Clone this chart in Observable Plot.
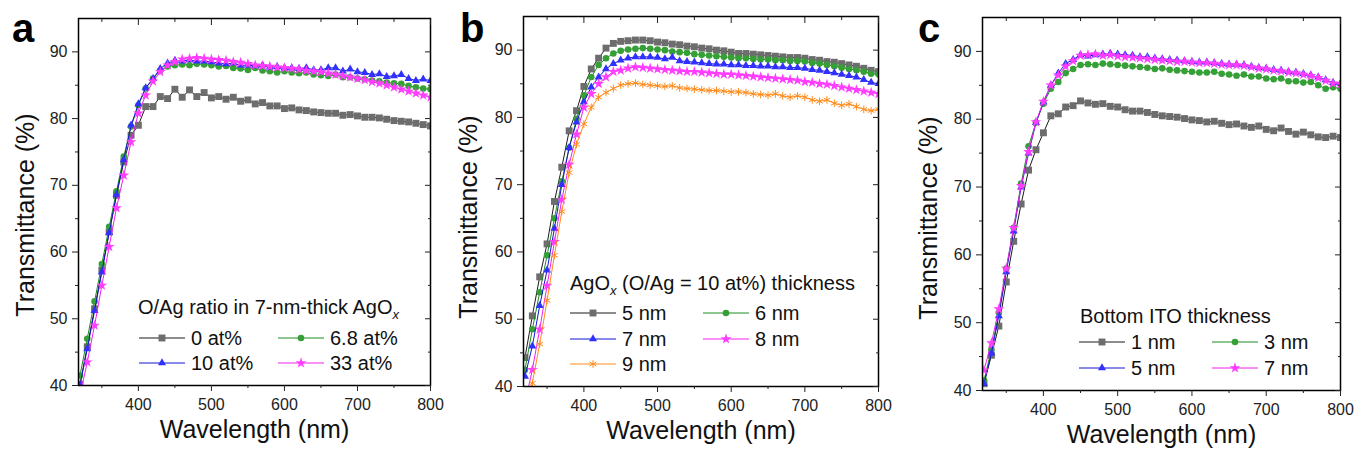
<!DOCTYPE html>
<html><head><meta charset="utf-8">
<script src="https://cdn.jsdelivr.net/npm/d3@7"></script>
<script src="https://cdn.jsdelivr.net/npm/@observablehq/plot@0.6"></script>
<style>
body{margin:0;background:#fff;font-family:"Liberation Sans",Arial,sans-serif;}
#root{position:relative;width:1354px;height:454px;overflow:hidden;background:#fff;}
.panel{position:absolute;top:0;}
.letter{position:absolute;font-weight:bold;font-size:40px;line-height:40px;color:#000;}
.ytitle{position:absolute;font-size:25px;line-height:25px;white-space:nowrap;color:#111;transform:translate(-50%,-50%) rotate(-90deg);}
.ltitle{position:absolute;font-size:20px;line-height:20px;white-space:nowrap;color:#111;}
.ltitle sub{font-style:italic;font-size:13px;vertical-align:-5px;line-height:0;}
.item{position:absolute;display:flex;align-items:center;height:20px;font-size:20px;line-height:20px;white-space:nowrap;color:#111;}
.item svg{display:block;margin-right:6px;}
</style></head><body><div id="root"></div>
<script>
// ---------- data ----------
const wavelength = [320,330,340,350,360,370,380,390,400,410,420,430,440,450,460,470,480,490,500,510,520,530,540,550,560,570,580,590,600,610,620,630,640,650,660,670,680,690,700,710,720,730,740,750,760,770,780,790,800];

// panel a : O/Ag ratio in 7-nm-thick AgOx
const aLabels = ["0 at%", "6.8 at%", "10 at%", "33 at%"];
const a_0at = [40.2,45.8,51.5,57.3,63.0,68.5,73.5,77.5,79.0, 81.8,81.8,83.3,83.0,84.4,83.2,84.3,83.3,83.9,83.1, 83.3,82.9,83.2,82.6,82.8,82.2,82.4,81.9,81.9,81.5, 81.6,81.3,81.2,81.0,80.9,80.8,80.8,80.5,80.6,80.4, 80.2,80.2,80.1,79.9,79.7,79.6,79.5,79.3,79.1,78.9];
const a_6p8at = [41.5,47.0,52.6,58.2,63.8,69.1,74.3,78.8,82.0, 84.5,86.0,87.2,87.8,88.0,88.1,88.0,88.2,88.1,88.0, 87.8,87.9,87.6,87.5,87.3,87.6,87.2,87.1,86.9,87.1, 86.9,86.8,86.9,86.6,86.5,86.4,86.6,86.2,86.2,86.0, 85.9,85.7,85.6,85.4,85.3,85.2,84.9,84.7,84.5,84.4];
const a_10at = [40.0,45.5,51.2,57.0,62.9,68.6,73.8,79.0,82.2, 84.6,86.0,87.5,88.3,88.7,88.6,88.8,88.6,88.6,88.5, 88.3,88.2,88.3,88.0,88.0,87.9,88.0,87.7,87.8,87.6, 87.6,87.5,87.6,87.3,87.3,87.6,87.6,87.1,87.4,87.0, 86.9,86.6,86.7,86.3,86.4,86.6,86.0,85.7,85.9,85.7];
const a_33at = [38.5,43.5,49.0,55.0,60.8,66.6,71.5,76.5,80.8, 83.5,85.6,87.0,88.0,88.5,88.9,89.0,89.1,89.0,88.9, 88.8,88.7,88.5,88.4,88.2,88.0,87.9,87.8,87.7,87.6, 87.5,87.4,87.2,87.1,87.0,86.8,86.6,86.4,86.2,86.0, 85.8,85.5,85.3,85.0,84.7,84.4,84.1,83.8,83.5,83.2];

// panel b : AgOx (O/Ag = 10 at%) thickness
const bLabels = ["5 nm", "6 nm", "7 nm", "8 nm", "9 nm"];
const b_5nm = [44.3,50.5,56.3,61.2,67.5,72.6,78.0,81.0,84.6, 87.2,88.8,90.3,91.0,91.3,91.4,91.5,91.5,91.4,91.2, 91.1,90.9,90.8,90.6,90.5,90.3,90.2,90.0,89.9,89.7, 89.5,89.5,89.4,89.3,89.2,89.1,89.0,88.9,88.9,88.8, 88.6,88.5,88.3,88.2,88.0,87.8,87.6,87.3,87.0,86.8];
const b_6nm = [42.5,48.5,54.0,59.5,65.0,70.5,75.5,79.8,83.3, 86.0,87.8,88.8,89.5,89.9,90.1,90.2,90.3,90.2,90.1, 90.0,89.8,89.7,89.6,89.4,89.3,89.2,89.1,89.0,88.9, 88.8,88.8,88.7,88.6,88.6,88.5,88.5,88.4,88.4,88.3, 88.1,88.0,87.8,87.6,87.4,87.2,87.0,86.8,86.5,86.4];
const b_7nm = [41.5,46.0,52.0,57.3,63.5,70.0,75.5,79.3,82.3, 84.5,86.0,87.2,88.0,88.5,88.8,89.0,89.0,89.0,88.9, 88.7,88.9,88.4,88.3,88.2,88.1,88.0,87.9,87.9,87.8, 87.8,87.7,87.7,87.6,87.6,87.5,87.5,87.4,87.4,87.3, 87.1,87.0,86.8,86.6,86.4,86.2,86.0,85.6,85.2,85.0];
const b_8nm = [37.5,42.5,48.5,55.0,61.5,67.8,73.0,77.5,81.5, 83.5,85.0,86.0,86.8,87.0,87.3,87.5,87.4,87.3,87.2, 87.1,87.0,86.9,86.8,86.8,86.7,86.6,86.5,86.4,86.4, 86.3,86.2,86.1,86.0,85.9,85.8,85.7,85.6,85.5,85.3, 85.2,85.0,84.9,84.7,84.5,84.3,84.1,83.9,83.7,83.5];
const b_9nm = [35.5,40.5,46.3,52.8,59.5,66.0,71.8,76.0,79.0, 81.5,83.0,83.7,84.3,84.8,85.0,85.1,84.9,84.8,84.7, 84.6,84.7,84.4,84.3,84.2,84.1,84.0,84.0,83.9,83.8, 83.8,83.7,83.5,83.4,83.3,83.5,83.2,83.0,83.2,83.0, 82.6,82.4,82.6,82.1,81.8,82.0,81.6,81.2,81.0,81.2];

// panel c : Bottom ITO thickness
const cLabels = ["1 nm", "3 nm", "5 nm", "7 nm"];
const c_1nm = [41.0,45.2,49.5,56.0,62.0,67.5,72.5,75.5,78.0, 80.5,80.8,81.8,82.0,82.7,82.4,82.2,82.3,81.9,81.8, 81.4,81.2,81.2,81.0,80.7,80.5,80.4,80.3,80.1,79.9, 79.8,79.6,79.7,79.4,79.2,79.3,79.0,78.8,79.0,78.5, 78.3,78.7,78.2,77.8,78.1,77.7,77.4,77.3,77.5,77.3];
const c_3nm = [41.5,46.0,51.5,58.0,64.0,70.5,76.0,79.5,82.3, 84.5,85.5,86.8,87.4,88.0,88.1,88.0,88.2,88.1,88.0, 87.9,87.8,87.7,87.6,87.4,87.5,87.3,87.2,87.1,87.0, 86.9,86.9,87.0,86.7,86.6,86.4,86.6,86.3,86.3,86.0, 85.9,86.0,85.6,85.6,85.4,85.5,85.0,84.5,84.7,84.5];
const c_5nm = [41.0,45.5,51.0,57.5,63.5,70.0,75.0,79.5,82.5, 85.0,86.8,88.2,88.8,89.5,89.3,89.5,89.6,89.7,89.6, 89.5,89.4,89.2,89.2,89.0,88.9,88.8,88.7,88.6,88.5, 88.4,88.4,88.3,88.2,88.1,88.1,88.0,87.8,87.6,87.5, 87.3,87.2,87.0,86.9,86.7,86.5,86.2,85.8,85.4,85.3];
const c_7nm = [43.0,47.0,52.0,58.0,64.0,70.2,75.2,79.6,82.6, 85.0,86.5,87.8,88.6,89.4,89.5,89.6,89.4,89.5,89.3, 89.2,89.1,89.0,88.9,88.8,88.7,88.6,88.5,88.5,88.4, 88.3,88.3,88.2,88.1,88.0,88.0,87.9,87.7,87.5,87.4, 87.2,87.1,86.9,86.8,86.6,86.4,86.1,85.7,85.3,85.2];

// axis ticks and texts
const xMajor = [400, 500, 600, 700, 800];
const xMinor = [350, 450, 550, 650, 750];
const yMajor = [40, 50, 60, 70, 80, 90];
const yMinor = [45, 55, 65, 75, 85];
const xTitle = "Wavelength (nm)";
const yTitle = "Transmittance (%)";

// ---------- styles ----------
const FONT = "Liberation Sans, Arial, sans-serif";
const styles = {
  gray:    {line: "#1a1a1a", fill: "#6d6d6d", stroke: "none", symbol: "square",   r: 3.9},
  green:   {line: "#1f8a1f", fill: "#35a035", stroke: "none", symbol: "circle",   r: 3.3},
  blue:    {line: "#1515d5", fill: "#3030ff", stroke: "none", symbol: "triangle", r: 3.0},
  magenta: {line: "#f020f0", fill: "#ff3cff", stroke: "none", symbol: "star",     r: 3.4},
  orange:  {line: "#ff8c1a", fill: "none",    stroke: "#ff8a1a", symbol: "asterisk", r: 3.6}
};
const symbolMap = {square: d3.symbolSquare, circle: d3.symbolCircle, triangle: d3.symbolTriangle, star: d3.symbolStar, asterisk: d3.symbolAsterisk};

const root = document.getElementById("root");

function drawPanel(cfg) {
  const marks = [];
  for (const s of cfg.series) {
    const st = styles[s.style];
    const rows = wavelength.map((w, i) => ({w, t: s.values[i]}));
    marks.push(Plot.line(rows, {x: "w", y: "t", stroke: st.line, strokeWidth: 1, clip: true}));
    marks.push(Plot.dot(rows, {x: "w", y: "t", symbol: st.symbol, r: st.r, fill: st.fill, stroke: st.stroke, strokeWidth: 1, clip: true}));
  }
  marks.push(
    Plot.frame({stroke: "#000", strokeWidth: 1.5}),
    Plot.axisX(xMajor, {anchor: "bottom", tickSize: 6, tickPadding: 7, label: null, fontSize: 16}),
    Plot.axisX(xMinor, {anchor: "bottom", tickSize: 3, tickFormat: () => "", label: null}),
    Plot.axisX(xMajor, {anchor: "top", tickSize: -6, tickFormat: () => "", label: null}),
    Plot.axisX(xMinor, {anchor: "top", tickSize: -3, tickFormat: () => "", label: null}),
    Plot.axisY(yMajor, {anchor: "left", tickSize: 6, tickPadding: 5, label: null, fontSize: 16}),
    Plot.axisY(yMinor, {anchor: "left", tickSize: 3, tickFormat: () => "", label: null}),
    Plot.axisY(yMajor, {anchor: "right", tickSize: -6, tickFormat: () => "", label: null}),
    Plot.axisY(yMinor, {anchor: "right", tickSize: -3, tickFormat: () => "", label: null}),
    Plot.text([xTitle], {frameAnchor: "bottom", dy: cfg.xlabelDy, fontSize: 25, fill: "#111"})
  );
  const chart = Plot.plot({
    width: cfg.width, height: 454,
    marginLeft: cfg.m[0], marginRight: cfg.m[1], marginTop: cfg.m[2], marginBottom: cfg.m[3],
    x: {domain: [318, 800], label: null},
    y: {domain: [40, 95], label: null},
    style: {fontFamily: FONT, fontSize: "16px", color: "#222", background: "transparent", overflow: "visible"},
    marks
  });
  const div = document.createElement("div");
  div.className = "panel";
  div.style.left = cfg.left + "px";
  div.appendChild(chart);
  root.appendChild(div);
  // rotated y-axis title
  const yt = document.createElement("div");
  yt.className = "ytitle";
  yt.style.left = cfg.ytitle[0] + "px";
  yt.style.top = cfg.ytitle[1] + "px";
  yt.textContent = yTitle;
  root.appendChild(yt);
}

function addLetter(text, x) {
  const d = document.createElement("div");
  d.className = "letter";
  d.style.left = x + "px";
  d.style.top = "8px";
  d.textContent = text;
  root.appendChild(d);
}

function addLegend(title, titleX, titleY, items) {
  const t = document.createElement("div");
  t.className = "ltitle";
  t.style.left = titleX + "px";
  t.style.top = (titleY - 10) + "px";
  t.innerHTML = title;
  root.appendChild(t);
  for (const it of items) {
    const st = styles[it.style];
    const d = document.createElement("div");
    d.className = "item";
    d.style.left = it.x + "px";
    d.style.top = (it.y - 10) + "px";
    const svg = d3.create("svg").attr("width", 46).attr("height", 20);
    svg.append("line").attr("x1", 0).attr("x2", 46).attr("y1", 10).attr("y2", 10).attr("stroke", st.line).attr("stroke-width", 1);
    svg.append("path").attr("d", d3.symbol(symbolMap[st.symbol], Math.PI * st.r * st.r)())
      .attr("transform", "translate(23,10)").attr("fill", st.fill).attr("stroke", st.stroke);
    d.appendChild(svg.node());
    const sp = document.createElement("span");
    sp.textContent = it.label;
    d.appendChild(sp);
    root.appendChild(d);
  }
}

// panel a
drawPanel({left: 0, width: 450, m: [78, 20, 18, 69], xlabelDy: 52.5, ytitle: [24.5, 215],
  series: [
    {values: a_0at, style: "gray"}, {values: a_6p8at, style: "green"},
    {values: a_10at, style: "blue"}, {values: a_33at, style: "magenta"}
  ]});
// panel b
drawPanel({left: 450, width: 450, m: [73, 22, 16, 68], xlabelDy: 52.5, ytitle: [468, 217],
  series: [
    {values: b_5nm, style: "gray"}, {values: b_6nm, style: "green"}, {values: b_7nm, style: "blue"},
    {values: b_8nm, style: "magenta"}, {values: b_9nm, style: "orange"}
  ]});
// panel c
drawPanel({left: 900, width: 454, m: [82, 14, 17, 64], xlabelDy: 52, ytitle: [928, 218],
  series: [
    {values: c_1nm, style: "gray"}, {values: c_3nm, style: "green"},
    {values: c_5nm, style: "blue"}, {values: c_7nm, style: "magenta"}
  ]});

addLetter("a", 12);
addLetter("b", 460);
addLetter("c", 918);

addLegend("O/Ag ratio in 7-nm-thick AgO<sub>x</sub>", 138, 307, [
  {x: 139, y: 338, label: aLabels[0], style: "gray"},
  {x: 278, y: 338, label: aLabels[1], style: "green"},
  {x: 139, y: 363, label: aLabels[2], style: "blue"},
  {x: 278, y: 363, label: aLabels[3], style: "magenta"}
]);
addLegend("AgO<sub>x</sub> (O/Ag = 10 at%) thickness", 570, 283, [
  {x: 570, y: 313, label: bLabels[0], style: "gray"},
  {x: 703, y: 313, label: bLabels[1], style: "green"},
  {x: 570, y: 339, label: bLabels[2], style: "blue"},
  {x: 703, y: 339, label: bLabels[3], style: "magenta"},
  {x: 570, y: 364, label: bLabels[4], style: "orange"}
]);
addLegend("Bottom ITO thickness", 1080, 316, [
  {x: 1079, y: 342, label: cLabels[0], style: "gray"},
  {x: 1212, y: 342, label: cLabels[1], style: "green"},
  {x: 1079, y: 368, label: cLabels[2], style: "blue"},
  {x: 1212, y: 368, label: cLabels[3], style: "magenta"}
]);
</script></body></html>
